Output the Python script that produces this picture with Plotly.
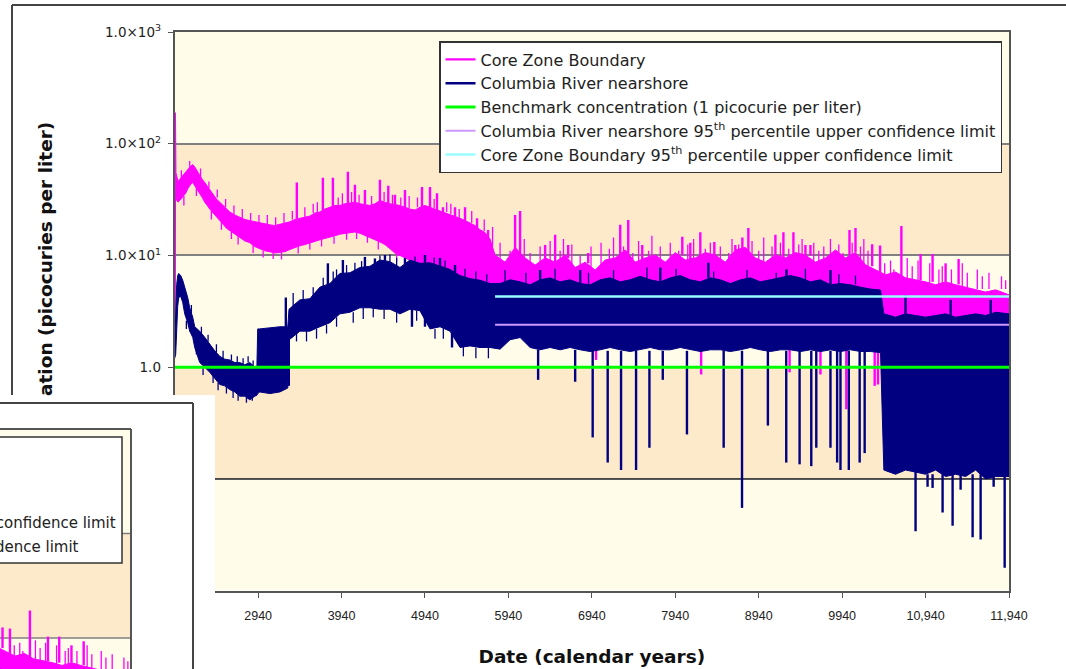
import plotly.graph_objects as go

# ---------------- data ----------------
x_start = 1940
x_end = 11940
tick_years = [1940, 2940, 3940, 4940, 5940, 6940, 7940, 8940, 9940, 10940, 11940]
tick_year_labels = ["1940", "2940", "3940", "4940", "5940", "6940", "7940", "8940", "9940", "10,940", "11,940"]
y_tick_vals = [0.01, 0.1, 1, 10, 100, 1000]
y_tick_labels = ["1.0×10<sup>-2</sup>", "1.0×10<sup>-1</sup>", "1.0", "1.0×10<sup>1</sup>",
                 "1.0×10<sup>2</sup>", "1.0×10<sup>3</sup>"]

# Core Zone Boundary: band (low / high envelope) + spikes
cz_years = [1940, 1946, 1950, 1955, 1964, 1980, 2000, 2036, 2072, 2100,
            2130, 2156, 2180, 2210, 2240, 2270, 2300, 2330, 2360, 2400,
            2440, 2480, 2520, 2560, 2600, 2660, 2720, 2780, 2840, 2900,
            2960, 3020, 3080, 3140, 3200, 3260, 3320, 3380, 3440, 3500,
            3560, 3620, 3680, 3740, 3800, 3860, 3920, 3980, 4040, 4100,
            4160, 4220, 4280, 4340, 4400, 4460, 4520, 4580, 4640, 4700,
            4760, 4820, 4880, 4940, 5000, 5060, 5120, 5180, 5240, 5300,
            5360, 5420, 5480, 5540, 5600, 5660, 5720, 5780, 5900, 6020,
            6140, 6260, 6380, 6500, 6620, 6740, 6860, 6980, 7100, 7220,
            7340, 7460, 7580, 7700, 7820, 7940, 8060, 8180, 8300, 8420,
            8540, 8660, 8780, 8900, 9020, 9140, 9260, 9380, 9500, 9620,
            9740, 9860, 9980, 10100, 10220, 10340, 10460, 10580, 10700, 10820,
            10940, 11060, 11180, 11300, 11420, 11540, 11660, 11780, 11940]
cz_low = [1.5, 1.5, 36, 34, 31, 30, 31, 33, 36, 40,
          43, 45, 43, 39, 36, 33, 30, 28, 26, 24,
          22, 20.5, 19, 17.5, 16.5, 15.5, 14.5, 13.5, 13, 12,
          11.5, 11, 10.8, 10.5, 10.6, 10.8, 11.3, 11.8, 12.2, 12.5,
          13, 13.3, 13.8, 14.2, 14.5, 15, 15.5, 15.8, 16, 16.2,
          15.8, 15.2, 14.5, 13.8, 13.2, 12.5, 11.5, 10.5, 10, 9.5,
          9, 8.6, 8.2, 7.8, 7.4, 7.1, 6.9, 6.6, 6.3, 6.1,
          5.9, 5.7, 5.5, 5.3, 5.2, 5.0, 4.9, 4.7, 4.35, 4.6,
          4.44, 4.0, 4.27, 4.18, 4.35, 4.0, 4.27, 3.86, 4.18, 4.35,
          4.44, 4.18, 4.35, 4.18, 4.0, 4.35, 4.18, 4.0, 4.35, 4.18,
          4.0, 4.18, 4.35, 4.0, 3.86, 4.18, 4.0, 4.18, 4.0, 3.7,
          3.86, 4.0, 3.7, 3.86, 3.6, 2.9, 2.5, 2.4, 2.2, 2.1,
          1.95, 1.95, 1.84, 1.9, 1.84, 1.76, 1.69, 1.59, 1.59]
cz_high = [1.6, 190, 170, 55, 50, 46, 48, 52, 56, 60,
           63, 65, 62, 57, 52, 48, 45, 42, 39, 35,
           32, 30, 28, 26, 24.5, 23, 22, 21, 20.5, 20,
           19.5, 19, 18.8, 18.5, 19, 19.5, 20, 21, 21.5, 22,
           22.5, 24, 24.5, 26, 27, 28, 28, 29, 29.5, 30,
           29, 28.5, 28, 29, 31, 30, 29, 28.5, 28, 27,
           26, 25.5, 27, 28, 27, 26, 25, 24, 23, 22.5,
           21.5, 20.5, 19.5, 18.5, 17, 16, 14, 10.1, 8.7, 11.8,
           9.5, 8.2, 9.5, 8.7, 10.1, 7.8, 8.7, 7.4, 9.1, 9.5,
           11.2, 8.7, 9.5, 10.1, 8.7, 10.6, 9.1, 9.5, 10.6, 10.1,
           8.7, 11.2, 11.8, 9.5, 8.7, 10.1, 9.5, 10.6, 10.1, 8.7,
           9.5, 11.2, 9.5, 10.6, 8.24, 7.44, 6.71, 7.1, 6.3, 6.05,
           5.8, 5.46, 5.8, 5.46, 5.2, 4.92, 4.7, 4.92, 4.44]
# large spikes (up and down)
cz_spike_year = [3404, 3716, 3836, 4016, 4100, 4220, 4400, 4500, 4580, 4700,
                 4904, 5000, 5084, 5156, 5300, 5420, 5564, 5696, 6020, 6080,
                 6380, 6500, 6656, 6896, 7280, 7376, 7544, 8024, 8120, 8240,
                 8408, 8660, 8744, 8816, 9140, 9236, 9356, 9500, 9560, 10028,
                 10100, 10300, 10395, 10650, 10880, 11024, 11180, 11336,
                 6990, 8250, 9310, 9680, 9990, 10330, 10370, 11480]
cz_spike_from = [20, 24, 26, 29, 29, 28, 30, 28, 28, 26,
                 27, 26, 25, 24, 22, 20, 17, 14, 11, 10,
                 9, 8.5, 9.5, 8.5, 9.5, 10, 9, 10, 9, 9,
                 10, 11, 10, 10, 10, 9.5, 10, 10, 10, 10,
                 10.6, 8, 7, 6.5, 6, 5.8, 5.8, 5.5,
                 3.9, 4.0, 4.0, 3.8, 3.7, 2.9, 2.9, 1.8]
cz_spike_to = [45, 49.5, 49.5, 56, 43, 38.6, 47.5, 42, 35, 38.6,
               41, 41, 36, 27, 27, 27, 21.5, 16.9, 23, 25,
               12.4, 15.3, 12.4, 10.5, 18.8, 20.8, 12.4, 14.7, 13, 16.1,
               13.2, 12.4, 14.5, 17.6, 15.3, 16.1, 16.1, 12.4, 12.4, 16.9,
               17.6, 12.6, 12.3, 18.3, 10.3, 10.3, 8.5, 9.3,
               1.16, 0.86, 0.9, 0.86, 0.42, 0.68, 0.7, 1.1]
# small fluctuations along the band edges
cz_noise_year = [2020, 2120, 2250, 2350, 2450, 2550, 2650, 2750, 2850, 2950,
                 3050, 3150, 3250, 3350, 3500, 3600, 3650, 3900, 3950, 4060,
                 4150, 4300, 4450, 4550, 4650, 4750, 4850, 5050, 5200, 5250,
                 5350, 5500, 5650, 5750,
                 2050, 2200, 2380, 2500, 2620, 2700, 2880, 3000, 3120, 3220,
                 3420, 3560, 3700, 3850, 4000, 4120, 4250, 4380, 4600, 4800,
                 5000, 5200,
                 5840, 5960, 6130, 6200, 6320, 6440, 6560, 6600, 6700, 6800,
                 6930, 7050, 7150, 7200, 7320, 7430, 7500, 7620, 7660, 7760,
                 7880, 7980, 8090, 8160, 8300, 8360, 8480, 8580, 8620, 8700,
                 8860, 8940, 9000, 9100, 9200, 9300, 9420, 9460, 9600, 9660,
                 9720, 9800, 9900, 9950, 10060, 10160, 10200, 10250,
                 10450, 10520, 10560, 10720, 10780, 10850, 10990, 11100, 11140, 11250,
                 11380, 11440, 11560, 11620, 11700, 11850, 11900,
                 10500, 10760, 11000, 11200, 11400, 11620, 11820]
cz_noise_from = [48, 62, 50, 40, 33, 27, 23, 21.5, 20.5, 19.5,
                 19, 18.6, 19.5, 21, 22, 24, 24.5, 28, 28.5, 29.7,
                 29, 28.3, 30.5, 28.8, 28, 26.5, 27, 26.5, 24.5, 23.5,
                 21.5, 19.5, 16.5, 12,
                 34, 41, 25, 20, 16.5, 15, 12.5, 11, 10.7, 10.7,
                 12.2, 13, 14, 14.8, 15.9, 16.2, 15, 13.4, 10.3, 8.8,
                 7.4, 6.6,
                 7, 7, 7, 7, 7, 7, 7, 7, 7, 7,
                 7, 7, 7, 7, 7, 7, 7, 7, 7, 7,
                 7, 7, 7, 7, 7, 7, 7, 7, 7, 7,
                 7, 7, 7, 7, 7, 7, 7, 7, 7, 7,
                 7, 7, 7, 7, 7, 7, 7, 7,
                 5, 5, 5, 5, 5, 5, 5, 5, 5, 5,
                 5, 5, 5, 5, 5, 5, 5,
                 2.2, 2.2, 2.2, 2.2, 2.2, 2.2, 2.2]
cz_noise_to = [58, 70, 60, 46, 39, 32, 28, 26, 24, 23,
               23, 22, 24, 25, 27, 29, 30, 33, 36, 37,
               35, 34, 37, 35, 33, 34, 33, 32, 30, 29,
               26, 25, 21, 18,
               28, 34, 21, 17, 14, 12.5, 10.5, 9.6, 9.3, 9.2,
               10.4, 11.3, 12, 12.7, 13.8, 14, 13, 11.3, 8.8, 7.5,
               6.4, 5.6,
               13, 11, 14, 10.5, 12, 13.5, 11, 14, 12.5, 10,
               12, 13, 11.5, 14.5, 12, 10.5, 13.5, 11, 15, 12,
               13, 11, 12.5, 14, 11.5, 13, 12, 10.5, 14, 12.5,
               13.5, 11, 14.5, 12, 13, 11.5, 12.5, 14, 13, 11,
               12, 14, 12.5, 10.5, 13, 12, 14, 11,
               8.5, 9, 7.5, 9.5, 8, 9, 8.5, 7.5, 8, 7.5,
               8.5, 7, 7.5, 6.5, 7, 6.5, 6.0,
               1.4, 1.5, 1.3, 1.5, 1.4, 1.3, 1.2]

# Columbia River nearshore: band + spikes
cr_years = [1940, 1952, 1964, 1976, 1988, 2012, 2036, 2060, 2096, 2120,
            2156, 2180, 2240, 2300, 2360, 2420, 2480, 2540, 2600, 2660,
            2720, 2780, 2840, 2900, 2925, 2935, 2960, 3080, 3200, 3295,
            3310, 3330, 3440, 3560, 3680, 3800, 3920, 4040, 4160, 4280,
            4400, 4520, 4640, 4760, 4880, 5000, 5120, 5240, 5360, 5480,
            5600, 5720, 5840, 5960, 6080, 6200, 6320, 6440, 6560, 6680,
            6800, 6920, 7040, 7160, 7280, 7400, 7520, 7640, 7760, 7880,
            8000, 8120, 8240, 8360, 8480, 8600, 8720, 8840, 8960, 9080,
            9200, 9320, 9440, 9560, 9680, 9800, 9920, 10040, 10160, 10280,
            10400, 10440, 10580, 10700, 10820, 10940, 11060, 11180, 11300, 11420,
            11540, 11660, 11780, 11940]
cr_low = [1.2, 1.3, 2.0, 3.5, 4.2, 4.3, 3.8, 3.0, 2.5, 2.1,
          1.85, 1.5, 1.1, 1.0, 0.9, 0.8, 0.7, 0.68, 0.63, 0.6,
          0.55, 0.55, 0.51, 0.55, 0.56, 0.58, 0.6, 0.58, 0.6, 0.65,
          1.8, 1.8, 2.1, 2.1, 2.3, 2.5, 3.0, 3.1, 3.4, 3.4,
          3.3, 3.3, 3.0, 3.3, 3.2, 2.2, 2.3, 2.1, 1.5, 1.55,
          1.5, 1.5, 1.45, 1.76, 1.84, 1.5, 1.43, 1.5, 1.43, 1.5,
          1.43, 1.38, 1.43, 1.5, 1.43, 1.38, 1.43, 1.5, 1.43, 1.43,
          1.5, 1.43, 1.38, 1.43, 1.43, 1.38, 1.43, 1.5, 1.43, 1.38,
          1.43, 1.43, 1.38, 1.43, 1.38, 1.43, 1.38, 1.43, 1.38, 1.38,
          1.35, 0.12, 0.11, 0.12, 0.115, 0.11, 0.12, 0.105, 0.11, 0.105,
          0.12, 0.1, 0.105, 0.105]
cr_high = [1.6, 3.5, 5.5, 6.6, 6.9, 6.6, 6.0, 5.2, 4.2, 3.4,
           2.8, 2.3, 2.1, 1.85, 1.6, 1.4, 1.25, 1.18, 1.16, 1.1,
           1.1, 1.05, 1.1, 1.0, 1.0, 2.2, 2.2, 2.25, 2.3, 2.3,
           3.3, 3.4, 4.0, 4.1, 5.2, 5.6, 6.9, 7.0, 7.8, 8.0,
           9.1, 8.8, 7.8, 9.1, 8.5, 8.6, 8.0, 7.5, 6.6, 6.2,
           6.0, 5.6, 5.6, 6.05, 5.8, 5.46, 6.05, 6.3, 5.8, 6.05,
           5.6, 5.46, 6.05, 6.3, 5.8, 6.05, 6.5, 6.05, 5.8, 6.3,
           6.6, 6.05, 5.8, 6.3, 6.05, 5.6, 6.05, 6.3, 5.8, 6.05,
           6.3, 6.6, 6.3, 5.8, 6.05, 5.46, 5.6, 5.46, 5.2, 5.0,
           4.9, 3.0, 2.8, 3.0, 2.9, 2.8, 2.9, 3.0, 2.8, 2.9,
           3.0, 2.9, 3.1, 3.0]
cr_spike_year = [3272, 3776, 3956, 4220, 4340, 4460, 4700, 4940, 5120, 5300,
                 6320, 6800, 7760, 8336, 9272, 9800, 10700, 11240, 11720,
                 3308, 4784, 4940, 5264, 6296, 6740, 6950, 7130, 7290, 7470,
                 7630, 7790, 8080, 8520, 8740, 9050, 9270, 9430, 9570, 9630,
                 9800, 9880, 9920, 10020, 10150, 10210,
                 10820, 10964, 11024, 11144, 11264, 11360, 11504, 11600, 11756, 11888]
cr_spike_from = [2.2, 5.0, 6.5, 7.5, 7.5, 8.5, 8, 8, 7.5, 7,
                 6, 5.5, 5.8, 6.3, 6.3, 5.5, 2.9, 2.9, 2.9,
                 1.8, 3.3, 3.2, 2.1, 1.43, 1.43, 1.4, 1.4, 1.4, 1.4,
                 1.4, 1.4, 1.4, 1.4, 1.4, 1.4, 1.4, 1.4, 1.4, 1.4,
                 1.4, 1.4, 1.4, 1.4, 1.4, 1.4,
                 0.12, 0.11, 0.11, 0.11, 0.11, 0.11, 0.11, 0.11, 0.11, 0.11]
cr_spike_to = [4.2, 8.5, 9.1, 9.7, 9.4, 10.1, 9.5, 10.1, 9.5, 8.2,
               7.4, 7.4, 7.8, 8.6, 7.5, 7.4, 4.4, 4.0, 4.0,
               0.68, 2.3, 2.3, 1.5, 0.77, 0.74, 0.235, 0.14, 0.12, 0.12,
               0.19, 0.77, 0.25, 0.19, 0.055, 0.30, 0.14, 0.135, 0.13, 0.19,
               0.19, 0.14, 0.12, 0.12, 0.14, 0.17,
               0.034, 0.085, 0.083, 0.05, 0.038, 0.08, 0.03, 0.0286, 0.085, 0.016]
cr_noise_year = [2140, 2260, 2340, 2440, 2520, 2620, 2690, 2760, 2820, 2880,
                 2080, 2200, 2280, 2400, 2460, 2560, 2640, 2700, 2800, 2870,
                 3360, 3480, 3600, 3720, 3840, 3880, 4000, 4100, 4180, 4400,
                 4520, 4600, 4820, 5050, 5180, 5420, 5550, 5680,
                 3400, 3520, 3640, 3760, 3880, 4080, 4200, 4320, 4450, 4600,
                 4840, 5060, 5160, 5400, 5550, 5700,
                 5900, 6150, 6500, 6900, 7200, 7600, 7950, 8400, 8800, 9150,
                 9500, 9900, 10100]
cr_noise_from = [3.0, 2.0, 1.7, 1.35, 1.2, 1.15, 1.1, 1.05, 1.1, 1.0,
                 2.6, 1.5, 1.0, 0.85, 0.72, 0.68, 0.62, 0.58, 0.55, 0.56,
                 3.4, 4.0, 4.1, 5.2, 5.6, 6.0, 6.9, 7.0, 7.8, 9.1,
                 8.8, 8.0, 8.8, 8.4, 7.8, 6.4, 6.1, 5.8,
                 2.1, 2.1, 2.2, 2.4, 2.8, 3.1, 3.4, 3.4, 3.3, 3.1,
                 3.2, 2.2, 2.3, 1.55, 1.5, 1.5,
                 5.5, 5.5, 5.5, 5.5, 5.5, 5.5, 5.5, 5.5, 5.5, 5.5,
                 5.5, 5.5, 5.5]
cr_noise_to = [3.6, 2.3, 1.95, 1.6, 1.4, 1.3, 1.25, 1.2, 1.25, 1.15,
               2.2, 1.3, 0.85, 0.72, 0.62, 0.58, 0.53, 0.5, 0.48, 0.5,
               4.6, 4.9, 5.2, 6.3, 7.2, 7.5, 8.2, 8.6, 8.9, 10.0,
               10.2, 9.5, 9.8, 9.6, 9.0, 7.6, 7.2, 6.8,
               1.7, 1.7, 1.8, 2.0, 2.3, 2.5, 2.7, 2.8, 2.7, 2.5,
               2.6, 1.8, 1.8, 1.25, 1.2, 1.2,
               7.4, 7.0, 7.6, 7.0, 7.4, 7.8, 7.6, 7.2, 7.4, 7.0,
               7.6, 6.8, 6.6]

benchmark = 1.0
cr_ucl95 = 2.4
cz_ucl95 = 4.3
ucl_start_year = 5780

assert len(cz_years) == len(cz_low) == len(cz_high)
assert len(cz_spike_year) == len(cz_spike_from) == len(cz_spike_to)
assert len(cz_noise_year) == len(cz_noise_from) == len(cz_noise_to)
assert len(cr_years) == len(cr_low) == len(cr_high)
assert len(cr_spike_year) == len(cr_spike_from) == len(cr_spike_to)
assert len(cr_noise_year) == len(cr_noise_from) == len(cr_noise_to)

# ---------------- styles ----------------
MAG = "#FF00FF"
NAVY = "#000080"
GREEN = "#00FF00"
LAV = "#CC99FF"
CYAN = "#99FFFF"
CREAM = "#FFFDE9"
TAN = "#FDEACB"
GRID = "#808080"
FRAME = "#444444"
W, H = 1066, 669


def px(xp):
    return xp / W


def py(yp):
    return 1 - yp / H


def segments(xs, a, b):
    sx, sy = [], []
    for x, y0, y1 in zip(xs, a, b):
        sx += [x, x, None]
        sy += [y0, y1, None]
    return sx, sy


fig = go.Figure()


def add_all(xa, ya, main):
    fig.add_trace(go.Scatter(x=cz_years + cz_years[::-1], y=cz_high + cz_low[::-1],
                             fill="toself", fillcolor=MAG, mode="lines",
                             line=dict(color=MAG, width=1), showlegend=False,
                             hoverinfo="skip", xaxis=xa, yaxis=ya))
    sx, sy = segments(cz_noise_year, cz_noise_from, cz_noise_to)
    fig.add_trace(go.Scatter(x=sx, y=sy, mode="lines", line=dict(color=MAG, width=1.3),
                             showlegend=False, hoverinfo="skip", xaxis=xa, yaxis=ya))
    sx, sy = segments(cz_spike_year, cz_spike_from, cz_spike_to)
    fig.add_trace(go.Scatter(x=sx, y=sy, mode="lines", line=dict(color=MAG, width=2.4),
                             name="Core Zone Boundary", legendgroup="g1",
                             showlegend=main, xaxis=xa, yaxis=ya))
    fig.add_trace(go.Scatter(x=cr_years + cr_years[::-1], y=cr_high + cr_low[::-1],
                             fill="toself", fillcolor=NAVY, mode="lines",
                             line=dict(color=NAVY, width=1), showlegend=False,
                             hoverinfo="skip", xaxis=xa, yaxis=ya))
    sx, sy = segments(cr_noise_year, cr_noise_from, cr_noise_to)
    fig.add_trace(go.Scatter(x=sx, y=sy, mode="lines", line=dict(color=NAVY, width=1.3),
                             showlegend=False, hoverinfo="skip", xaxis=xa, yaxis=ya))
    sx, sy = segments(cr_spike_year, cr_spike_from, cr_spike_to)
    fig.add_trace(go.Scatter(x=sx, y=sy, mode="lines", line=dict(color=NAVY, width=2.4),
                             name="Columbia River nearshore", legendgroup="g2",
                             showlegend=main, xaxis=xa, yaxis=ya))
    fig.add_trace(go.Scatter(x=[x_start, x_end], y=[benchmark, benchmark], mode="lines",
                             line=dict(color=GREEN, width=3),
                             name="Benchmark concentration (1 picocurie per liter)",
                             legendgroup="g3", showlegend=main, xaxis=xa, yaxis=ya))
    fig.add_trace(go.Scatter(x=[ucl_start_year, x_end], y=[cr_ucl95, cr_ucl95], mode="lines",
                             line=dict(color=LAV, width=2),
                             name="Columbia River nearshore 95<sup>th</sup> percentile upper confidence limit",
                             legendgroup="g4", showlegend=main, xaxis=xa, yaxis=ya))
    fig.add_trace(go.Scatter(x=[ucl_start_year, x_end], y=[cz_ucl95, cz_ucl95], mode="lines",
                             line=dict(color=CYAN, width=2.5),
                             name="Core Zone Boundary 95<sup>th</sup> percentile upper confidence limit",
                             legendgroup="g5", showlegend=main, xaxis=xa, yaxis=ya))


add_all("x", "y", True)
add_all("x2", "y2", False)

shapes = []
# main plot bands
for lo, hi, col in [(100, 1000, CREAM), (10, 100, TAN), (1, 10, CREAM), (0.1, 1, TAN), (0.01, 0.1, CREAM)]:
    shapes.append(dict(type="rect", xref="x", yref="y", x0=x_start, x1=x_end, y0=lo, y1=hi,
                       fillcolor=col, line=dict(width=0), layer="below"))
# darker grid line at 0.1
shapes.append(dict(type="line", xref="x", yref="y", x0=x_start, x1=x_end, y0=0.1, y1=0.1,
                   line=dict(color="#333333", width=1.3), layer="between"))
# inset (overlapping copy of the chart) bands / grid / frame
for lo, hi, col in [(100, 1000, CREAM), (10, 100, TAN), (1, 10, CREAM)]:
    shapes.append(dict(type="rect", xref="x2", yref="y2", x0=9000, x1=x_end, y0=lo, y1=hi,
                       fillcolor=col, line=dict(width=0), layer="below"))
for g in [100, 10]:
    shapes.append(dict(type="line", xref="x2", yref="y2", x0=9000, x1=x_end, y0=g, y1=g,
                       line=dict(color=GRID, width=1.5), layer="below"))
shapes.append(dict(type="line", xref="x2", yref="y2", x0=9000, x1=x_end, y0=1000, y1=1000,
                   line=dict(color="#555555", width=2), layer="above"))
shapes.append(dict(type="line", xref="x2", yref="y2", x0=x_end, x1=x_end, y0=1, y1=1000,
                   line=dict(color="#555555", width=2), layer="above"))
# outer chart frames
shapes.append(dict(type="line", xref="paper", yref="paper", x0=px(12), x1=1.0, y0=py(5), y1=py(5),
                   line=dict(color=FRAME, width=2), layer="above"))
shapes.append(dict(type="line", xref="paper", yref="paper", x0=px(12), x1=px(12), y0=py(395), y1=py(5),
                   line=dict(color=FRAME, width=2), layer="above"))
shapes.append(dict(type="line", xref="paper", yref="paper", x0=0, x1=px(193), y0=py(403), y1=py(403),
                   line=dict(color=FRAME, width=2), layer="above"))
shapes.append(dict(type="line", xref="paper", yref="paper", x0=px(193), x1=px(193), y0=0, y1=py(403),
                   line=dict(color=FRAME, width=2), layer="above"))
# inset legend box
shapes.append(dict(type="rect", xref="paper", yref="paper", x0=-0.05, x1=px(122), y0=py(563), y1=py(437),
                   fillcolor="white", line=dict(color="#333333", width=1.5), layer="above"))

annotations = [
    dict(text="<b>ation (picocuries per liter)</b>", textangle=-90, xref="paper", yref="paper",
         x=px(45), y=py(398), xanchor="center", yanchor="bottom", showarrow=False,
         font=dict(family="DejaVu Sans", size=18.5, color="#111111")),
    dict(text="Columbia River nearshore 95<sup>th</sup> percentile upper confidence limit",
         xref="paper", yref="paper", x=px(118), y=py(522), xanchor="right", yanchor="middle",
         showarrow=False, font=dict(family="DejaVu Sans", size=15, color="#222222")),
    dict(text="Core Zone Boundary 95<sup>th</sup> percentile upper confidence limit",
         xref="paper", yref="paper", x=px(81), y=py(546), xanchor="right", yanchor="middle",
         showarrow=False, font=dict(family="DejaVu Sans", size=15, color="#222222")),
]

fig.update_layout(
    width=W, height=H, margin=dict(l=0, r=0, t=0, b=0, autoexpand=False),
    paper_bgcolor="white", plot_bgcolor="white",
    shapes=shapes, annotations=annotations,
    legend=dict(x=px(1002), xanchor="right", y=py(41), yanchor="top",
                bgcolor="white", bordercolor="#333333", borderwidth=1.5,
                font=dict(family="DejaVu Sans", size=16, color="#222222"),
                tracegroupgap=4, traceorder="normal"),
    xaxis=dict(domain=[px(174.7), px(1009)], range=[x_start, x_end], anchor="y",
               tickvals=tick_years, ticktext=tick_year_labels, ticks="outside", ticklen=5,
               tickcolor="#555555", showline=True, linecolor="#555555", linewidth=2, mirror=True,
               showgrid=False, zeroline=False, ticklabelstandoff=7,
               tickfont=dict(family="Liberation Sans Narrow, Arial Narrow, Liberation Sans", size=12.5, color="#222222"),
               title=dict(text="<b>Date (calendar years)</b>", standoff=28,
                          font=dict(family="DejaVu Sans", size=18.5, color="#111111"))),
    yaxis=dict(domain=[py(590.6), py(32)], type="log", range=[-2, 3], anchor="x",
               tickvals=y_tick_vals, ticktext=y_tick_labels, ticks="outside", ticklen=5,
               tickcolor="#555555", showline=True, linecolor="#555555", linewidth=2, mirror=True,
               showgrid=True, gridcolor=GRID, gridwidth=1.5, zeroline=False, ticklabelstandoff=4,
               tickfont=dict(family="DejaVu Sans", size=13.5, color="#222222")),
    xaxis2=dict(domain=[0, px(215)], range=[10268, 13012], anchor="y2",
                showgrid=False, zeroline=False, showticklabels=False, ticks="", showline=False),
    yaxis2=dict(domain=[0, py(395)], type="log", range=[0.703, 3.325], anchor="x2",
                showgrid=False, zeroline=False, showticklabels=False, ticks="", showline=False),
)

fig.write_html("out.html")
